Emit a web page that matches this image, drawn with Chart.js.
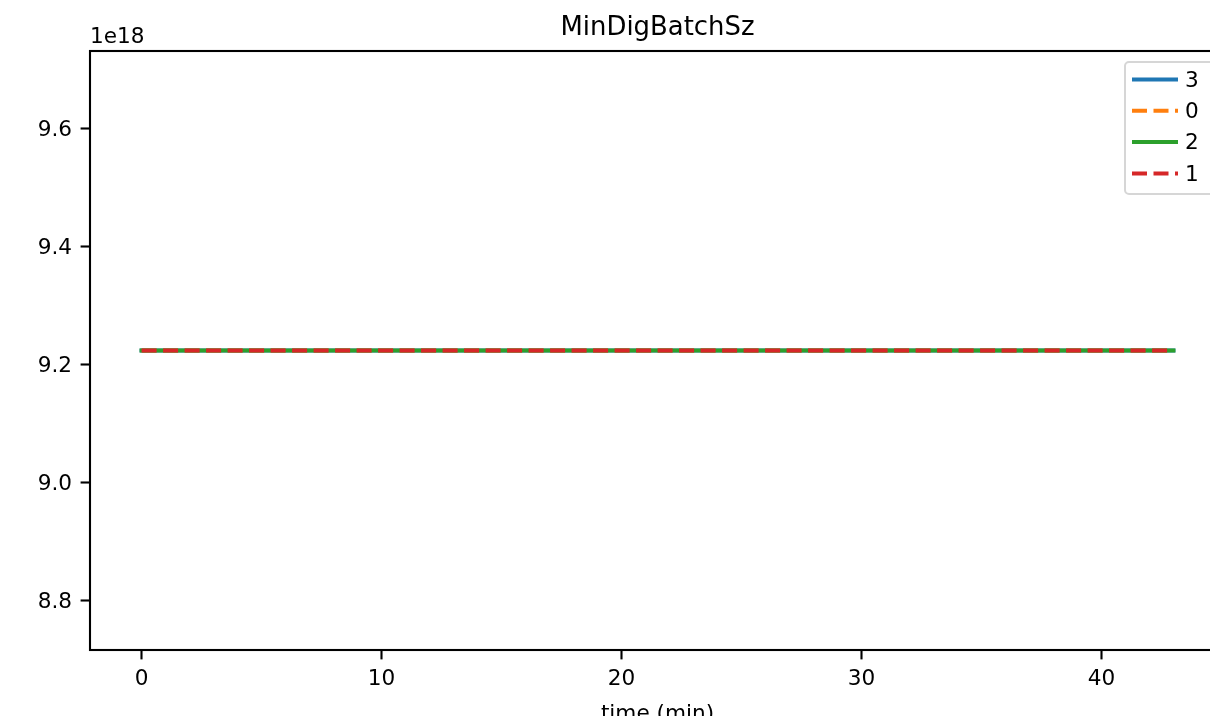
<!DOCTYPE html>
<html>
<head>
<meta charset="utf-8">
<script src="https://cdn.jsdelivr.net/npm/chart.js@4/dist/chart.umd.min.js"></script>
<style>
  html, body { margin: 0; padding: 0; background: #fff; overflow: hidden; }
  canvas { display: block; }
</style>
</head>
<body>
<canvas id="c" width="1240" height="716"></canvas>
<script>
// data: every series sits at int64 max (~9.2234e18)
var V = 9.223372036854776e18;
var timeMin = [0, 1, 2, 3, 4, 5, 6, 7, 8, 9, 10, 11, 12, 13, 14, 15, 16, 17, 18, 19, 20, 21,
  22, 23, 24, 25, 26, 27, 28, 29, 30, 31, 32, 33, 34, 35, 36, 37, 38, 39, 40, 41, 42, 43];
var s3 = [V, V, V, V, V, V, V, V, V, V, V, V, V, V, V, V, V, V, V, V, V, V,
  V, V, V, V, V, V, V, V, V, V, V, V, V, V, V, V, V, V, V, V, V, V];
var s0 = [V, V, V, V, V, V, V, V, V, V, V, V, V, V, V, V, V, V, V, V, V, V,
  V, V, V, V, V, V, V, V, V, V, V, V, V, V, V, V, V, V, V, V, V, V];
var s2 = [V, V, V, V, V, V, V, V, V, V, V, V, V, V, V, V, V, V, V, V, V, V,
  V, V, V, V, V, V, V, V, V, V, V, V, V, V, V, V, V, V, V, V, V, V];
var s1 = [V, V, V, V, V, V, V, V, V, V, V, V, V, V, V, V, V, V, V, V, V, V,
  V, V, V, V, V, V, V, V, V, V, V, V, V, V, V, V, V, V, V, V, V, V];
var seriesLabels = ['3', '0', '2', '1'];
var xTicks = [0, 10, 20, 30, 40];
var yTicks = [8.8, 9.0, 9.2, 9.4, 9.6];
var yExponent = 18;

var FONT = 'DejaVu Sans';
var TICK_PX = 21.6;
var colors = ['#1f77b4', '#ff7f0e', '#2ca02c', '#d62728'];
var dashes = [[], [15, 6.5], [], [15, 6.5]];

function toPoints(ys) {
  return ys.map(function(y, i) { return { x: timeMin[i], y: y }; });
}

var seriesData = [s3, s0, s2, s1];
var datasets = seriesData.map(function(ys, i) {
  return {
    label: seriesLabels[i],
    data: toPoints(ys),
    borderColor: colors[i],
    borderWidth: 4,
    borderDash: dashes[i],
    borderCapStyle: dashes[i].length ? 'butt' : 'square',
    pointRadius: 0,
    fill: false,
    tension: 0,
    order: seriesData.length - 1 - i   // later series drawn on top, like matplotlib
  };
});

var decor = {
  id: 'decor',
  beforeDraw: function(chart) {
    var ctx = chart.ctx;
    ctx.save();
    ctx.fillStyle = '#fff';
    ctx.fillRect(0, 0, chart.width, chart.height);
    ctx.restore();
  },
  afterDraw: function(chart) {
    var ctx = chart.ctx;
    var a = chart.chartArea;
    ctx.save();
    // frame
    ctx.strokeStyle = '#000';
    ctx.lineWidth = 2.1;
    ctx.strokeRect(a.left, a.top, a.right - a.left, a.bottom - a.top);

    ctx.fillStyle = '#000';
    ctx.textBaseline = 'alphabetic';
    ctx.font = '25.9px "' + FONT + '"';
    ctx.textAlign = 'center';
    ctx.fillText('MinDigBatchSz', (a.left + a.right) / 2, 35);

    ctx.font = TICK_PX + 'px "' + FONT + '"';
    ctx.fillText('time (min)', (a.left + a.right) / 2, 719.5);
    ctx.textAlign = 'left';
    ctx.fillText('1e' + yExponent, a.left, 43);

    // legend
    var lx = 1125, ly = 62, lw = 140, lh = 132, r = 4;
    ctx.beginPath();
    ctx.moveTo(lx + r, ly);
    ctx.lineTo(lx + lw - r, ly);
    ctx.arcTo(lx + lw, ly, lx + lw, ly + r, r);
    ctx.lineTo(lx + lw, ly + lh - r);
    ctx.arcTo(lx + lw, ly + lh, lx + lw - r, ly + lh, r);
    ctx.lineTo(lx + r, ly + lh);
    ctx.arcTo(lx, ly + lh, lx, ly + lh - r, r);
    ctx.lineTo(lx, ly + r);
    ctx.arcTo(lx, ly, lx + r, ly, r);
    ctx.closePath();
    ctx.fillStyle = 'rgba(255,255,255,0.8)';
    ctx.fill();
    ctx.strokeStyle = 'rgba(204,204,204,0.8)';
    ctx.lineWidth = 2;
    ctx.stroke();

    ctx.textBaseline = 'middle';
    ctx.textAlign = 'left';
    chart.data.datasets.forEach(function(ds, i) {
      var y = 79.5 + i * 31.3;
      ctx.beginPath();
      ctx.setLineDash(ds.borderDash);
      ctx.strokeStyle = ds.borderColor;
      ctx.lineWidth = 4;
      ctx.moveTo(1132, y);
      ctx.lineTo(1178, y);
      ctx.stroke();
      ctx.setLineDash([]);
      ctx.fillStyle = '#000';
      ctx.fillText(ds.label, 1185, y + 1.5);
    });
    ctx.restore();
  }
};

var scale = Math.pow(10, yExponent);
new Chart(document.getElementById('c'), {
  type: 'line',
  data: { datasets: datasets },
  plugins: [decor],
  options: {
    responsive: false,
    animation: false,
    devicePixelRatio: 1,
    layout: { padding: { top: 51, right: 15, left: 0, bottom: 0 } },
    plugins: { legend: { display: false }, title: { display: false }, tooltip: { enabled: false } },
    scales: {
      x: {
        type: 'linear',
        min: -2.15,
        max: 45.15,
        border: { display: false },
        grid: { drawOnChartArea: false, drawTicks: true, tickLength: 9.4, tickColor: '#000', tickWidth: 2.1 },
        ticks: { color: '#000', font: { family: FONT, size: TICK_PX }, padding: 7.5, maxRotation: 0 },
        afterBuildTicks: function(s) { s.ticks = xTicks.map(function(v) { return { value: v }; }); },
        afterFit: function(s) { s.height = 66; }
      },
      y: {
        type: 'linear',
        min: 8.7161 * scale,
        max: 9.7307 * scale,
        border: { display: false },
        grid: { drawOnChartArea: false, drawTicks: true, tickLength: 9.4, tickColor: '#000', tickWidth: 2.1 },
        ticks: {
          color: '#000', font: { family: FONT, size: TICK_PX }, padding: 8.6, labelOffset: 2,
          callback: function(v) { return (v / scale).toFixed(1); }
        },
        afterBuildTicks: function(s) { s.ticks = yTicks.map(function(v) { return { value: v * scale }; }); },
        afterFit: function(s) { s.width = 90; }
      }
    }
  }
});
</script>
</body>
</html>
